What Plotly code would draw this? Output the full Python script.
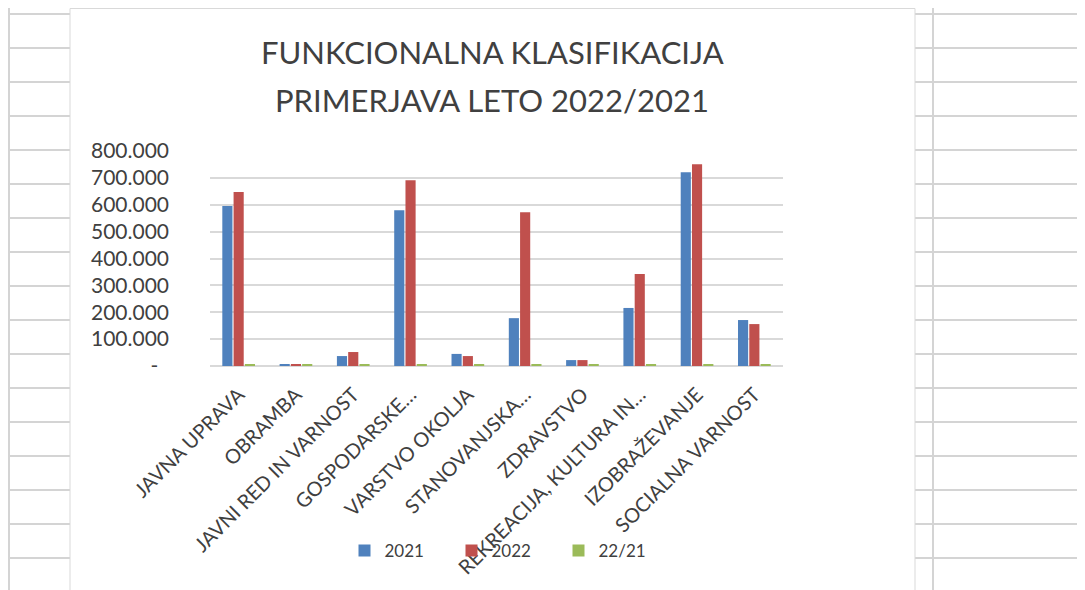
import plotly.graph_objects as go

categories = ["JAVNA UPRAVA", "OBRAMBA", "JAVNI RED IN VARNOST", "GOSPODARSKE…",
              "VARSTVO OKOLJA", "STANOVANJSKA…", "ZDRAVSTVO",
              "REKREACIJA, KULTURA IN…", "IZOBRAŽEVANJE", "SOCIALNA VARNOST"]
v2021 = [595000, 7000, 37000, 580000, 45000, 178000, 22000, 216000, 721000, 171000]
v2022 = [647000, 7000, 52000, 691000, 37000, 572000, 22000, 342000, 751000, 156000]
v2221 = [7000, 7000, 7000, 7000, 7000, 7000, 7000, 7000, 7000, 7000]
series_names = ["2021", "2022", "22/21"]
tick_vals = [0, 100000, 200000, 300000, 400000, 500000, 600000, 700000, 800000]
tick_text = ["-\u00a0\u00a0", "100.000", "200.000", "300.000", "400.000",
             "500.000", "600.000", "700.000", "800.000"]
title_lines = ["FUNKCIONALNA KLASIFIKACIJA", "PRIMERJAVA LETO 2022/2021"]

OFF = 8  # page body margin
W, H = 1085 - OFF, 590 - OFF
ML = 210 - OFF
MR = W - (783 - OFF)
MT = 151 - OFF
MB = H - (366 - OFF)
PW, PH = W - ML - MR, H - MT - MB


def px(x):
    return (x - OFF - ML) / PW


def py(y):
    return 1 - (y - OFF - MT) / PH


fig = go.Figure()
fig.add_trace(go.Bar(x=categories, y=v2021, name=series_names[0],
                     marker=dict(color="#4F81BD", line=dict(width=0))))
fig.add_trace(go.Bar(x=categories, y=v2022, name=series_names[1],
                     marker=dict(color="#C0504D", line=dict(width=0))))
fig.add_trace(go.Bar(x=categories, y=v2221, name=series_names[2],
                     marker=dict(color="#9BBB59", line=dict(width=0))))

shapes = []
cell = dict(color="#d4d4d4", width=2)
border = dict(color="#d9d9d9", width=1)
# spreadsheet row lines
for k in range(18):
    y = 14 + 34 * k
    shapes.append(dict(type="line", xref="paper", yref="paper", x0=px(8), x1=px(70),
                       y0=py(y), y1=py(y), line=cell, layer="below"))
    shapes.append(dict(type="line", xref="paper", yref="paper", x0=px(915), x1=px(1085),
                       y0=py(y), y1=py(y), line=cell, layer="below"))
# spreadsheet column lines
for x in [9, 933]:
    shapes.append(dict(type="line", xref="paper", yref="paper", x0=px(x), x1=px(x),
                       y0=py(8), y1=py(590), line=cell, layer="below"))
# chart area border
shapes.append(dict(type="rect", xref="paper", yref="paper", x0=px(70), x1=px(915),
                   y0=py(8.5), y1=py(600), line=border, fillcolor="rgba(0,0,0,0)", layer="below"))

annotations = []
for i, t in enumerate(title_lines):
    annotations.append(dict(text=t, xref="paper", yref="paper", x=px(492), y=py(52 + 48 * i),
                            xanchor="center", yanchor="middle", showarrow=False,
                            font=dict(family="Lato", size=31, color="#404040")))

fig.update_layout(
    width=W, height=H,
    margin=dict(l=ML, r=MR, t=MT, b=MB, pad=0),
    paper_bgcolor="white", plot_bgcolor="white",
    barmode="group", bargap=0.41, bargroupgap=0.1,
    font=dict(family="Lato", color="#404040"),
    showlegend=True,
    legend=dict(orientation="h", x=px(505), y=py(551), xanchor="center", yanchor="middle",
                font=dict(family="Lato", size=17, color="#404040"),
                bgcolor="rgba(0,0,0,0)", entrywidth=62, entrywidthmode="pixels",
                traceorder="normal"),
    shapes=shapes,
    annotations=annotations,
)
fig.update_xaxes(tickangle=-45, tickfont=dict(family="Lato", size=20, color="#404040"),
                 showgrid=False, showline=False, ticks="", zeroline=False,
                 ticklabelstandoff=12, fixedrange=True)
fig.update_yaxes(range=[0, 800000], tickvals=tick_vals, ticktext=tick_text,
                 tickfont=dict(family="Lato", size=21, color="#404040"),
                 showgrid=True, gridcolor="#d9d9d9", gridwidth=1.5,
                 zeroline=True, zerolinecolor="#d9d9d9", zerolinewidth=1.5,
                 showline=False, ticks="", ticklabelstandoff=40)

fig.write_html("out.html")
